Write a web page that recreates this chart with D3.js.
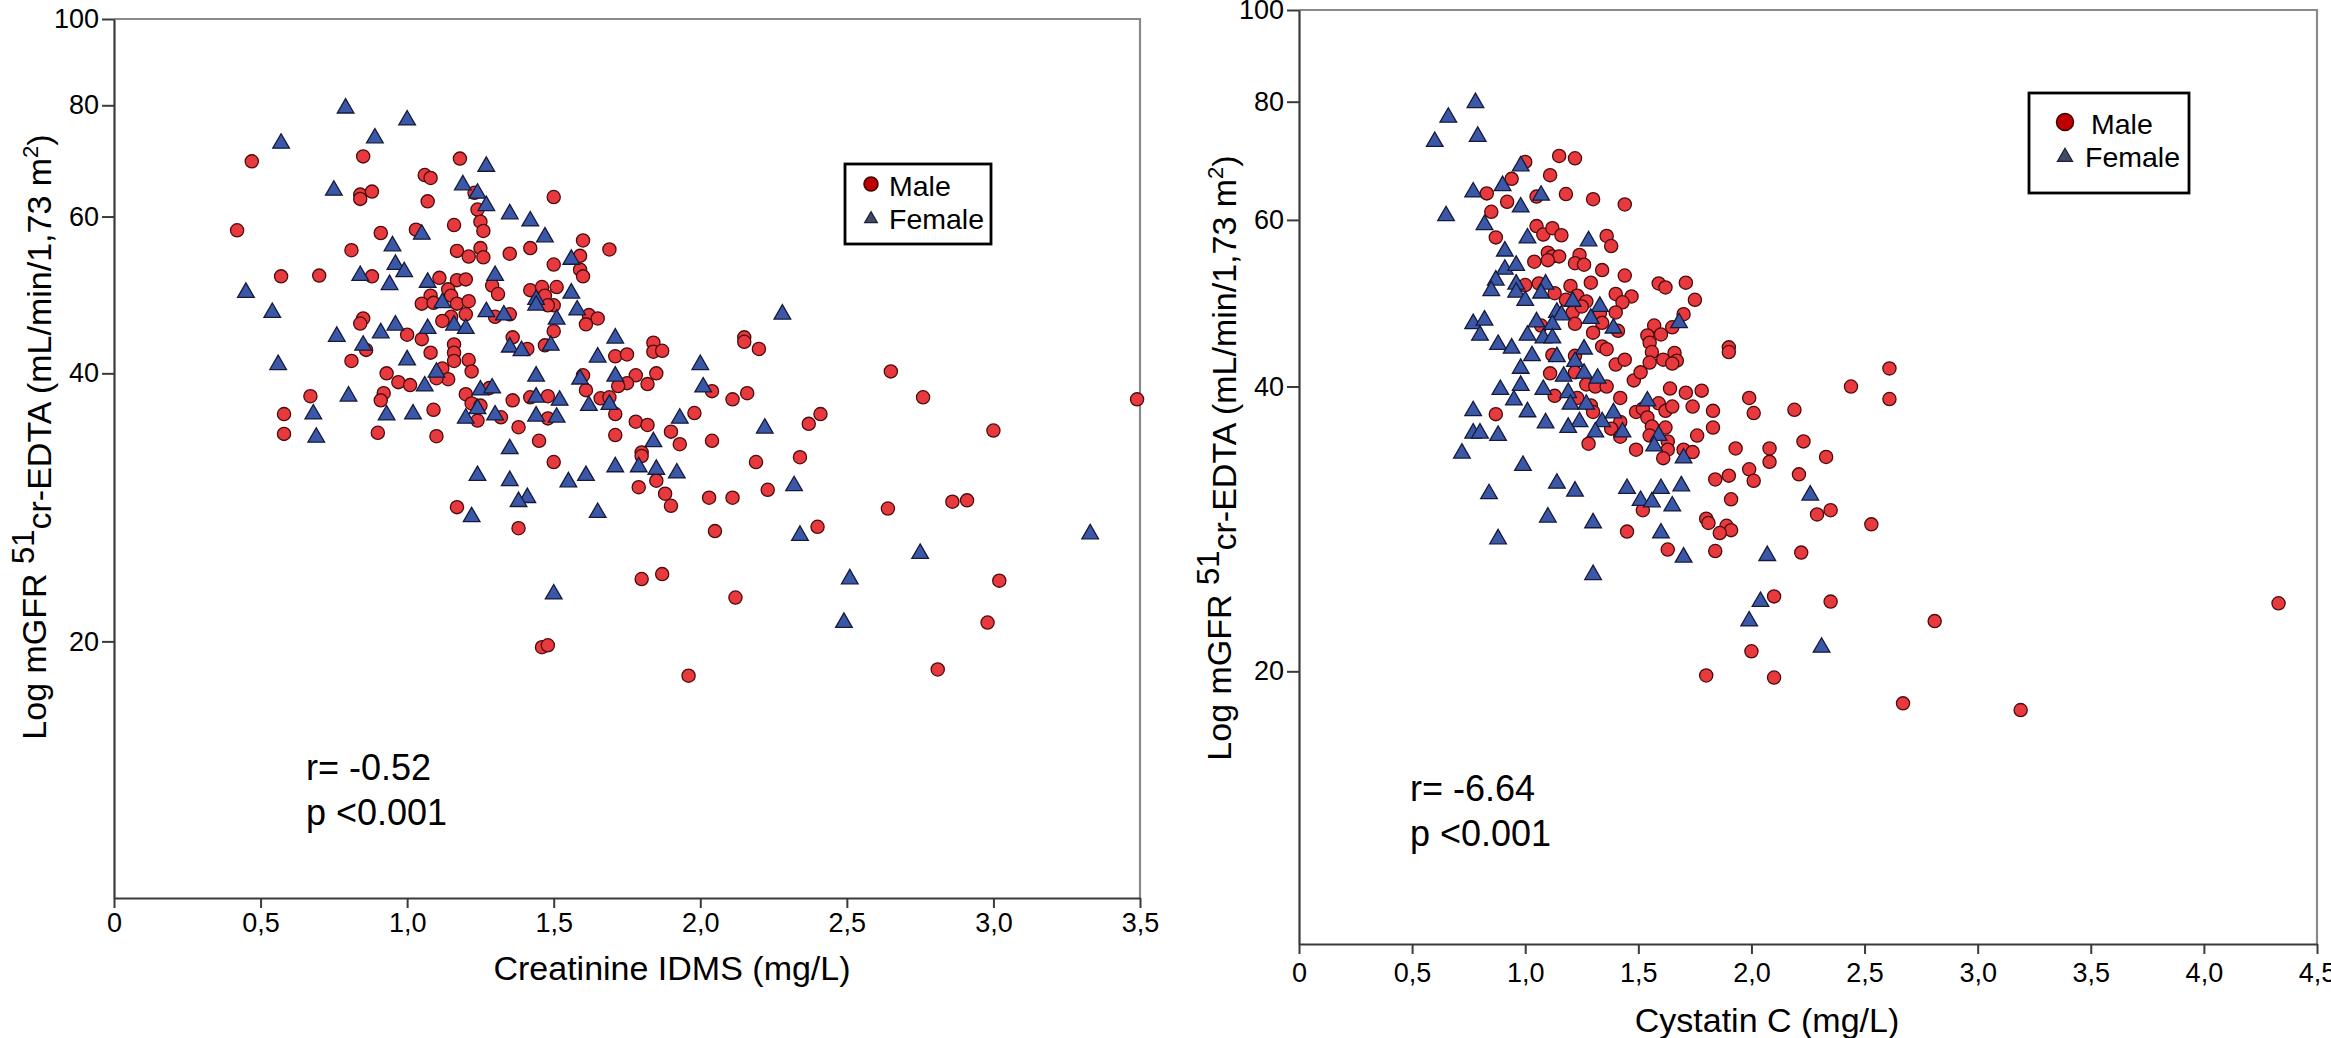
<!DOCTYPE html>
<html>
<head>
<meta charset="utf-8">
<title>mGFR vs creatinine and cystatin C</title>
<style type="text/css">
  body { margin: 0; background: white; }
  svg text { font-family: "Liberation Sans", Arial, Helvetica, sans-serif; fill: black; }
</style>
</head>
<body>
<script src="https://d3js.org/d3.v7.min.js"></script>
<script type="text/javascript">
var W = 2331, H = 1038

// ---- data ----
var gfrTicks = [20, 40, 60, 80, 100]
var gfrMin = 10.3, gfrMax = 100
var creatTicks = [0, 0.5, 1.0, 1.5, 2.0, 2.5, 3.0, 3.5]
var cystTicks = [0, 0.5, 1.0, 1.5, 2.0, 2.5, 3.0, 3.5, 4.0, 4.5]
var legendLabels = ["Male", "Female"]

// creatinine IDMS (mg/L), mGFR
var creatMale = [[0.47,69.2],[0.85,70.1],[1.18,69.7],[1.06,66.8],[1.08,66.3],[0.84,63.5],[0.84,62.8],[0.88,64.0],[1.07,62.4],[1.50,63.1],[1.23,63.8],[1.24,61.1],[1.25,59.2],[1.26,57.8],[1.16,58.7],[0.42,57.9],[0.91,57.5],[1.03,58.0],[1.60,56.4],[1.69,55.1],[0.81,55.0],[1.17,54.9],[1.21,54.1],[1.25,55.3],[1.26,54.0],[1.35,54.5],[1.42,55.3],[1.59,54.2],[1.50,53.0],[1.59,52.3],[1.60,51.4],[0.57,51.4],[0.70,51.5],[0.88,51.4],[1.11,51.2],[1.17,50.9],[1.20,51.0],[1.29,50.2],[1.31,49.1],[1.42,49.6],[1.46,50.0],[1.51,50.0],[1.47,48.9],[1.14,49.7],[1.15,48.9],[1.08,48.9],[1.05,47.9],[1.09,48.0],[1.17,47.9],[1.21,48.2],[1.20,46.6],[1.50,47.7],[1.48,47.7],[1.30,46.3],[1.35,46.6],[1.62,46.5],[1.65,46.1],[1.61,45.4],[0.85,46.1],[0.84,45.5],[1.15,46.3],[1.12,45.8],[1.00,44.2],[1.05,43.7],[1.50,44.6],[1.36,43.9],[1.16,43.1],[1.16,42.2],[1.16,41.3],[1.08,42.2],[1.41,42.6],[1.47,43.0],[0.86,42.5],[0.81,41.3],[1.21,41.4],[1.22,40.2],[0.93,40.0],[1.12,40.5],[1.14,39.4],[1.10,39.5],[1.71,41.8],[1.60,39.8],[1.61,38.3],[0.97,39.1],[1.01,38.8],[0.92,38.0],[0.91,37.3],[0.67,37.7],[1.20,37.9],[1.22,37.0],[1.25,36.8],[1.28,38.5],[1.36,37.3],[1.42,37.6],[1.48,37.7],[1.66,37.5],[1.69,37.6],[1.71,36.0],[0.58,36.0],[1.09,36.4],[1.24,35.4],[1.32,35.7],[1.48,35.6],[0.58,34.2],[0.90,34.3],[1.10,34.0],[1.38,34.8],[1.45,33.6],[1.71,34.1],[1.50,31.8],
  [1.17,28.3],[1.38,26.8],[1.46,19.7],[1.48,19.8],
  [1.84,43.3],[1.84,42.3],[1.87,42.4],[1.75,42.0],[2.15,43.9],[2.15,43.4],[2.20,42.6],[1.78,39.8],[1.85,40.0],[1.82,38.9],[1.75,39.0],[1.72,38.7],[2.04,38.2],[2.11,37.4],[2.16,38.0],[2.65,40.2],[2.76,37.6],[3.49,37.4],[1.98,36.1],[1.78,35.3],[1.82,35.0],[1.90,34.4],[1.93,33.3],[2.04,33.6],[2.41,36.0],[2.37,35.1],[1.80,32.6],[1.80,32.3],[1.85,30.3],[1.79,29.8],[1.88,29.3],[2.19,31.8],[2.34,32.2],[3.00,34.5],[2.23,29.6],
  [1.90,28.4],[2.03,29.0],[2.11,29.0],[2.05,26.6],[2.40,26.9],[2.64,28.2],[2.86,28.7],[2.91,28.8],[1.80,23.5],[1.87,23.8],[2.12,22.4],[3.02,23.4],[2.98,21.0],[1.96,18.3],[2.81,18.6]]

var creatFemale = [[0.79,79.4],[1.00,77.0],[0.57,72.5],[0.89,73.5],[1.27,68.3],[0.75,64.2],[1.19,65.1],[1.24,63.7],[1.27,61.7],[1.35,60.4],[1.42,59.3],[1.05,57.3],[1.47,56.9],[0.95,55.6],[0.96,53.0],[0.99,52.0],[0.84,51.5],[1.56,53.7],[0.94,50.3],[1.07,50.6],[1.30,51.5],[0.45,49.3],[1.56,49.2],[1.44,48.4],[1.44,47.7],[1.12,48.0],[0.54,46.8],[1.27,46.9],[1.33,46.5],[1.58,47.1],[1.51,46.0],[0.96,45.3],[0.91,44.4],[1.07,44.9],[1.16,45.3],[1.20,44.9],[0.76,44.0],[0.85,43.0],[1.35,42.8],[1.39,42.4],[1.49,43.0],[1.65,41.7],[1.71,43.8],[0.56,40.9],[1.00,41.4],[1.10,40.1],[1.44,39.7],[1.59,39.4],[1.71,39.7],[0.80,37.7],[1.06,38.7],[1.25,38.3],[1.29,38.5],[1.24,36.5],[1.44,37.6],[1.52,37.3],[1.62,36.8],[1.69,36.9],[0.68,36.0],[0.93,35.9],[1.02,36.0],[1.20,35.6],[1.30,35.9],[1.44,35.8],[1.51,35.7],[0.69,33.9],[1.35,32.9],[1.71,31.4],[1.24,30.7],[1.35,30.3],[1.55,30.2],[1.61,30.7],[1.41,29.0],
  [1.38,28.7],[1.22,27.6],[1.65,27.9],[1.50,22.6],
  [2.28,46.6],[2.00,40.9],[2.01,38.6],[1.93,35.6],[2.22,34.7],[1.84,33.5],[1.79,31.4],[1.85,31.2],[1.92,30.9],[2.32,29.9],
  [2.34,26.3],[2.75,25.1],[3.33,26.4],[2.51,23.5],[2.49,21.0]]

// cystatin C (mg/L), mGFR
var cystMale = [[1.15,70.1],[1.22,69.7],[1.00,69.1],[1.11,66.9],[0.94,66.3],[0.83,64.0],[1.05,63.5],[1.18,63.9],[1.30,63.1],[1.44,62.3],[0.92,62.7],[0.85,61.2],[0.87,57.5],[1.05,59.1],[1.08,57.9],[1.12,58.8],[1.16,57.8],[1.36,57.7],[1.38,56.3],[1.10,55.4],[1.12,54.9],[1.15,54.9],[1.04,54.2],[1.10,54.4],[1.24,55.1],[1.22,54.0],[1.26,53.8],[1.34,53.1],[1.44,52.4],[1.00,51.2],[1.06,51.4],[1.29,51.5],[1.59,51.4],[1.62,50.9],[1.71,51.5],[1.75,49.4],[1.20,51.1],[1.13,50.2],[1.18,49.4],[1.23,49.9],[1.27,49.2],[1.40,50.1],[1.47,49.8],[1.43,49.1],[1.21,47.9],[1.25,48.6],[1.33,47.8],[1.40,47.9],[1.70,47.7],[1.22,46.6],[1.07,46.4],[1.34,46.7],[1.41,45.8],[1.30,45.6],[1.57,46.4],[1.60,45.4],[1.54,45.3],[1.65,46.2],[1.55,44.5],[1.34,44.1],[1.36,43.8],[1.56,43.5],[1.66,43.4],[1.67,42.6],[1.61,42.7],[1.65,42.3],[1.90,44.0],[1.90,43.5],[1.12,43.2],[1.22,43.1],[1.40,42.2],[1.44,42.7],[1.55,42.4],[1.11,41.3],[1.48,40.6],[1.51,41.4],[1.22,41.4],[1.27,40.2],[1.31,40.0],[1.36,40.0],[1.64,39.8],[1.71,39.4],[1.78,39.6],[1.42,38.9],[1.13,39.1],[1.23,38.9],[1.99,38.9],[2.01,37.5],[2.19,37.8],[0.87,37.4],[1.29,38.2],[1.30,37.6],[1.49,37.6],[1.52,37.9],[1.54,37.1],[1.59,38.4],[1.62,37.7],[1.65,38.1],[1.74,38.1],[1.83,37.7],[1.42,36.7],[1.38,36.1],[1.56,36.3],[1.62,36.2],[1.83,36.2],[1.42,35.4],[1.55,35.5],[1.63,35.0],[1.76,35.5],[1.28,34.8],[1.49,34.3],[1.63,34.3],[1.61,33.6],[1.70,34.3],[1.74,34.1],[1.93,34.4],[2.08,34.4],[2.08,33.3],[1.99,32.7],[2.01,31.8],[2.21,32.3],[1.84,31.9],[1.90,32.2],[1.91,30.4],
  [2.61,41.8],[2.44,40.0],[2.61,38.8],[2.23,35.0],[2.33,33.7],
  [1.52,29.6],[1.45,28.1],[1.80,29.0],[1.81,28.7],[1.89,28.5],[1.91,28.2],[1.86,28.0],[1.63,26.9],[1.84,26.8],[2.22,26.7],[2.10,24.0],[2.00,21.0],[1.80,19.8],[2.10,19.7],
  [2.35,29.6],[2.29,29.3],[2.53,28.6],[2.35,23.7],[2.81,22.6],[4.33,23.6],[2.67,18.5],[3.19,18.2]]

var cystFemale = [[0.78,79.8],[0.66,77.0],[0.60,72.6],[0.79,73.5],[0.98,68.4],[0.90,65.2],[0.77,64.2],[1.07,63.7],[0.65,60.6],[0.98,61.9],[0.82,59.3],[1.01,57.4],[1.28,57.0],[0.91,55.6],[0.91,53.2],[0.96,53.7],[0.87,51.8],[0.85,50.5],[0.96,51.3],[0.96,50.3],[1.09,51.3],[1.07,50.2],[1.00,49.3],[1.21,49.2],[1.33,48.6],[1.14,47.9],[1.16,47.6],[1.29,47.2],[1.39,46.1],[1.68,46.7],[0.77,46.6],[0.82,47.0],[0.80,45.3],[1.05,46.8],[1.12,46.5],[1.01,45.3],[1.08,45.0],[1.12,45.0],[0.88,44.3],[0.94,43.9],[1.26,43.8],[1.03,43.1],[1.14,43.0],[1.22,42.5],[0.98,41.8],[1.17,41.0],[1.26,41.3],[1.32,40.8],[0.89,39.7],[0.98,40.1],[1.08,39.7],[1.19,39.4],[0.95,38.7],[1.20,38.3],[1.27,38.3],[1.54,38.6],[0.77,37.7],[1.01,37.6],[1.09,36.6],[1.24,36.7],[1.34,36.7],[1.39,37.5],[0.77,35.7],[0.80,35.7],[0.88,35.5],[1.19,36.2],[1.31,35.8],[1.43,35.8],[1.59,35.5],[1.57,34.6],[0.72,34.0],[1.70,33.6],[0.99,33.0],[1.14,31.6],[1.22,31.0],[1.45,31.2],[1.60,31.2],[1.69,31.4],[0.84,30.8],
  [1.51,30.3],[1.56,30.2],[1.65,29.9],[1.10,29.1],[1.30,28.7],[0.88,27.6],[1.60,28.0],[1.70,26.4],[1.30,25.3],[2.07,26.5],[2.04,23.7],[1.99,22.6],
  [2.26,30.7],[2.31,21.2]]

var svg = d3.select("body").append("svg")
  .attr("width", W)
  .attr("height", H)

svg.append("rect").attr("width", W).attr("height", H).attr("fill", "white")

var commaFmt = function(d) { return d === 0 ? "0" : d.toFixed(1).replace(".", ",") }
var triangle = d3.symbol().type(d3.symbolTriangle)

function drawPanel(p) {
  var x = d3.scaleLinear().domain(p.xDomain).range([p.left, p.right])
  var y = d3.scaleLog().domain([gfrMin, gfrMax]).range([p.bottom, p.top])

  // light frame on top / right
  svg.append("path")
    .attr("d", "M" + p.left + "," + p.top + "H" + p.right + "V" + p.bottom)
    .attr("fill", "none")
    .attr("stroke", "#8a8a8a")
    .attr("stroke-width", 2.2)

  var yAx = svg.append("g")
    .attr("transform", "translate(" + p.left + ",0)")
    .call(d3.axisLeft(y).tickValues(gfrTicks).tickFormat(d3.format("d")).tickSize(12).tickSizeOuter(0).tickPadding(3))
  var xAx = svg.append("g")
    .attr("transform", "translate(0," + p.bottom + ")")
    .call(d3.axisBottom(x).tickValues(p.xTicks).tickFormat(commaFmt).tickSize(10).tickSizeOuter(0).tickPadding(p.xPad))

  ;[yAx, xAx].forEach(function(ax) {
    ax.select(".domain").attr("stroke", "#3a3a3a").attr("stroke-width", 2.2)
    ax.selectAll(".tick line").attr("stroke", "#3a3a3a").attr("stroke-width", 2)
    ax.selectAll(".tick text")
      .style("font-family", "'Liberation Sans', Arial, sans-serif")
      .style("font-size", "27px")
      .attr("fill", "black")
  })

  // points
  svg.append("g").selectAll("circle")
    .data(p.male)
    .join("circle")
    .attr("cx", function(d) { return x(d[0]) })
    .attr("cy", function(d) { return y(d[1]) })
    .attr("r", 6.6)
    .attr("fill", "#e8393e")
    .attr("stroke", "#4d0c0c")
    .attr("stroke-width", 1.3)

  svg.append("g").selectAll("path")
    .data(p.female)
    .join("path")
    .attr("d", triangle.size(120))
    .attr("transform", function(d) { return "translate(" + x(d[0]) + "," + y(d[1]) + ")" })
    .attr("fill", "#3b58a8")
    .attr("stroke", "#151a3a")
    .attr("stroke-width", 1.3)

  // x title
  svg.append("text")
    .attr("x", p.xTitleX)
    .attr("y", p.xTitleY)
    .attr("text-anchor", "middle")
    .style("font-size", "34px")
    .text(p.xTitle)

  // y title with the 51 and m2 superscripts
  var yt = svg.append("text")
    .attr("transform", "translate(" + p.yTitleX + "," + p.yTitleY + ") rotate(-90)")
    .attr("text-anchor", "middle")
    .style("font-size", "34px")
  yt.append("tspan").text("Log mGFR ")
  yt.append("tspan").attr("dy", -12).style("font-size", "31px").text("51")
  yt.append("tspan").attr("dy", 17).text("cr-EDTA (mL/min/1,73 m")
  yt.append("tspan").attr("dy", -13).style("font-size", "22px").text("2")
  yt.append("tspan").attr("dy", 13).text(")")

  // r / p annotation
  svg.append("text").attr("x", p.statX).attr("y", p.statY).style("font-size", "36px").text(p.rText)
  svg.append("text").attr("x", p.statX).attr("y", p.statY + 45).style("font-size", "36px").text("p <0.001")

  // legend
  var lg = p.legend
  svg.append("rect")
    .attr("x", lg.x).attr("y", lg.y).attr("width", lg.w).attr("height", lg.h)
    .attr("fill", "white").attr("stroke", "black").attr("stroke-width", 2.8)
  svg.append("circle")
    .attr("cx", lg.mx).attr("cy", lg.y1 - 12).attr("r", lg.r)
    .attr("fill", "#c00000").attr("stroke", "#3a0000").attr("stroke-width", 1.5)
  svg.append("path")
    .attr("d", d3.symbol().type(d3.symbolTriangle).size(lg.tri)())
    .attr("transform", "translate(" + lg.mx + "," + (lg.y2 - 10) + ")")
    .attr("fill", "#3f4a68").attr("stroke", "#1c2030").attr("stroke-width", 1.2)
  svg.append("text").attr("x", lg.tx1).attr("y", lg.y1).style("font-size", "28.5px").text(legendLabels[0])
  svg.append("text").attr("x", lg.tx2).attr("y", lg.y2).style("font-size", "28.5px").text(legendLabels[1])
}

drawPanel({
  left: 114, right: 1140, top: 19, bottom: 898,
  xDomain: [0, 3.5], xTicks: creatTicks, xPad: 5,
  male: creatMale, female: creatFemale,
  xTitle: "Creatinine IDMS (mg/L)", xTitleX: 672, xTitleY: 980,
  yTitleX: 46, yTitleY: 437,
  statX: 306, statY: 780, rText: "r= -0.52",
  legend: { x: 845, y: 164, w: 146, h: 80, mx: 871, r: 7, tri: 70, tx1: 889, y1: 196, tx2: 889, y2: 229 }
})

drawPanel({
  left: 1299, right: 2317, top: 10, bottom: 944,
  xDomain: [0, 4.5], xTicks: cystTicks, xPad: 9,
  male: cystMale, female: cystFemale,
  xTitle: "Cystatin C (mg/L)", xTitleX: 1767, xTitleY: 1032,
  yTitleX: 1231, yTitleY: 458,
  statX: 1410, statY: 801, rText: "r= -6.64",
  legend: { x: 2029, y: 93, w: 160, h: 100, mx: 2065, r: 8.5, tri: 100, tx1: 2091, y1: 134, tx2: 2085, y2: 167 }
})
</script>
</body>
</html>
